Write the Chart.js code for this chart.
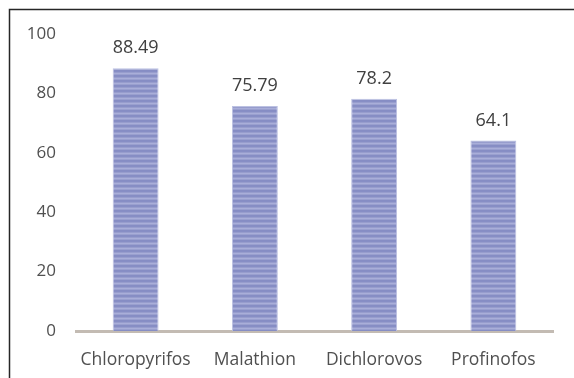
<!DOCTYPE html>
<html>
<head>
<meta charset="utf-8">
<script src="https://cdn.jsdelivr.net/npm/chart.js@4"></script>
<style>
  html, body { margin: 0; padding: 0; background: #fff; }
  #wrap { width: 574px; height: 378px; }
</style>
</head>
<body>
<div id="wrap"><canvas id="barChart" width="574" height="378"></canvas></div>
<script>
const categories = ['Chloropyrifos', 'Malathion', 'Dichlorovos', 'Profinofos'];
const values = [88.49, 75.79, 78.2, 64.1];
const valueLabels = ['88.49', '75.79', '78.2', '64.1'];
const yTicks = [0, 20, 40, 60, 80, 100];

// striped fill like the original bars
const stripe = document.createElement('canvas');
stripe.width = 1;
stripe.height = 5;
const sctx = stripe.getContext('2d');
const rows = ['#868dc4', '#878ec5', '#979dcd', '#a9aed9', '#9aa0cf'];
rows.forEach((c, i) => {
  sctx.fillStyle = c;
  sctx.fillRect(0, i, 1, 1);
});

const ctx = document.getElementById('barChart').getContext('2d');
const barFill = ctx.createPattern(stripe, 'repeat');

const frame = {
  id: 'frame',
  afterDraw(chart) {
    const c = chart.ctx;
    c.save();
    c.strokeStyle = '#262626';
    c.lineWidth = 1.5;
    c.beginPath();
    c.moveTo(9.5, 378);
    c.lineTo(9.5, 9.5);
    c.lineTo(574, 9.5);
    c.stroke();
    c.restore();
  }
};

const valueText = {
  id: 'valueText',
  afterDatasetsDraw(chart) {
    const c = chart.ctx;
    const meta = chart.getDatasetMeta(0);
    c.save();
    c.font = '18px "Open Sans"';
    c.fillStyle = '#404040';
    c.textAlign = 'center';
    c.textBaseline = 'middle';
    meta.data.forEach((bar, i) => {
      c.fillText(valueLabels[i], bar.x, bar.y - 20);
    });
    c.restore();
  }
};

new Chart(ctx, {
  type: 'bar',
  data: {
    labels: categories,
    datasets: [{
      data: values,
      backgroundColor: barFill,
      borderColor: '#bcc1e2',
      borderWidth: 1,
      categoryPercentage: 1,
      barPercentage: 0.385,
    }]
  },
  options: {
    responsive: false,
    animation: false,
    layout: {
      padding: { left: 10, right: 21, top: 34, bottom: 0 }
    },
    plugins: {
      legend: { display: false },
      tooltip: { enabled: false },
    },
    scales: {
      x: {
        grid: { display: false, drawTicks: false },
        border: { display: true, color: '#c3bbb3', width: 3 },
        ticks: {
          color: '#505050',
          padding: 19,
          font: { family: 'Open Sans', size: 17.5 },
        },
        afterFit(scale) { scale.height = 47; }
      },
      y: {
        min: 0,
        max: 100,
        grid: { display: false, drawTicks: false },
        border: { display: false },
        afterBuildTicks(scale) {
          scale.ticks = yTicks.map(v => ({ value: v }));
        },
        ticks: {
          color: '#505050',
          padding: 20,
          font: { family: 'Open Sans', size: 17 },
        },
        afterFit(scale) { scale.width = 66; }
      }
    }
  },
  plugins: [frame, valueText]
});
</script>
</body>
</html>
